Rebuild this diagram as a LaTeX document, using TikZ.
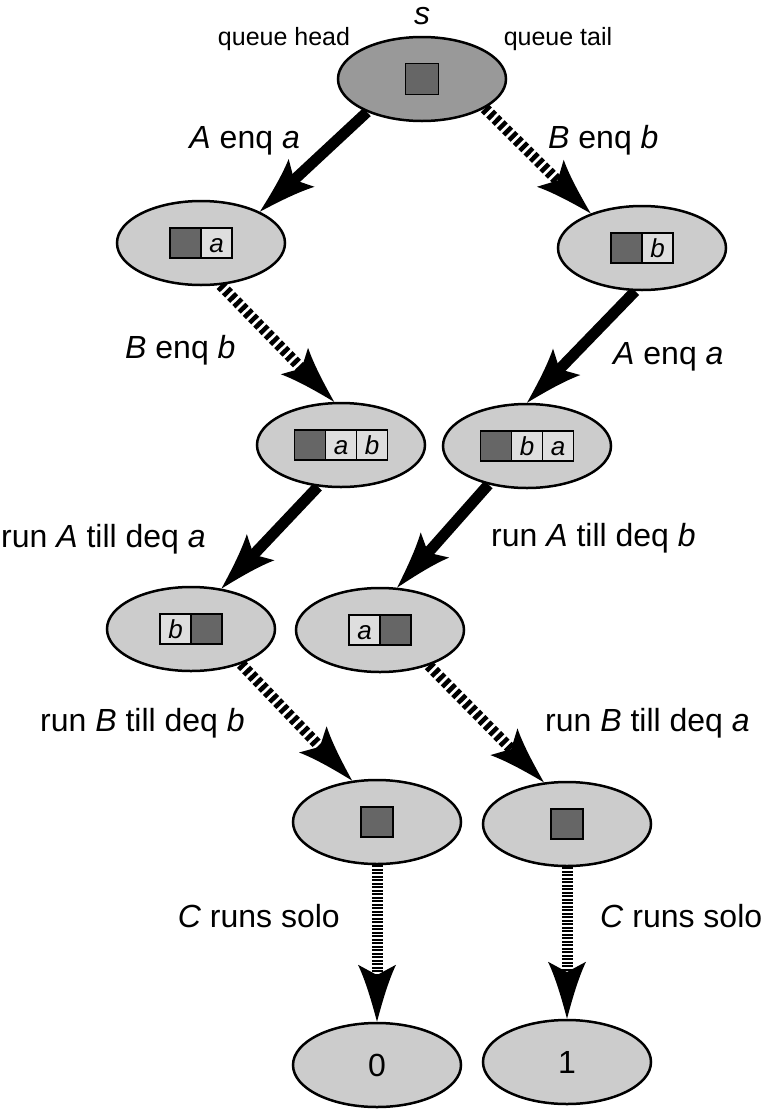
\documentclass[tikz,border=0pt]{standalone}
\usepackage{fontspec}
\setmainfont{Liberation Sans}
\usetikzlibrary{shapes.geometric,arrows.meta,backgrounds}
\definecolor{ellfill}{HTML}{CCCCCC}
\definecolor{topfill}{HTML}{999999}
\definecolor{darkfill}{HTML}{666666}
\definecolor{lightfill}{HTML}{DEDEDE}
\newdimen\barbtmp
\pgfdeclarearrow{
  name = Barb,
  parameters = {\the\pgfarrowlength,\the\pgfarrowwidth},
  setup code = {
    \pgfarrowssettipend{0pt}
    \barbtmp=-\pgfarrowlength
    \pgfarrowssetbackend{\barbtmp}
    \barbtmp=-0.78\pgfarrowlength
    \pgfarrowssetlineend{\barbtmp}
    \pgfarrowssavethe\pgfarrowlength
    \pgfarrowssavethe\pgfarrowwidth
  },
  drawing code = {
    \pgfpathmoveto{\pgfpointorigin}
    \pgfpathcurveto{\pgfpoint{-0.35*\pgfarrowlength}{0.14*\pgfarrowwidth}}{\pgfpoint{-0.72*\pgfarrowlength}{0.3*\pgfarrowwidth}}{\pgfpoint{-\pgfarrowlength}{0.5*\pgfarrowwidth}}
    \pgfpathlineto{\pgfpoint{-0.82*\pgfarrowlength}{0pt}}
    \pgfpathlineto{\pgfpoint{-\pgfarrowlength}{-0.5*\pgfarrowwidth}}
    \pgfpathcurveto{\pgfpoint{-0.72*\pgfarrowlength}{-0.3*\pgfarrowwidth}}{\pgfpoint{-0.35*\pgfarrowlength}{-0.14*\pgfarrowwidth}}{\pgfpointorigin}
    \pgfpathclose
    \pgfusepathqfill
  },
  defaults = {length=57pt, width=38pt}
}
\begin{document}
\begin{tikzpicture}[x=1pt,y=-1pt,
  state/.style={ellipse, draw, line width=2.5pt, fill=ellfill, minimum width=168pt, minimum height=84pt, inner sep=0pt},
  topstate/.style={state, fill=topfill},
  result/.style={state, font=\fontsize{32}{38}\selectfont},
  cellbase/.style={draw, line width=1.8pt, rectangle, minimum width=31pt, minimum height=30pt, inner sep=0pt, outer sep=0pt, text height=19pt, text depth=0pt, font=\fontsize{26}{30}\selectfont\itshape},
  dcell/.style={cellbase, fill=darkfill},
  lcell/.style={cellbase, fill=lightfill},
  lbl/.style={font=\fontsize{32}{38}\selectfont, inner sep=0pt},
  qlbl/.style={font=\fontsize{25}{30}\selectfont, inner sep=0pt},
  solidarr/.style={line width=11pt, -{Barb[length=57pt,width=38pt]}},
  dasharr/.style={solidarr, dash pattern=on 4.5pt off 3pt},
  vdasharr/.style={solidarr, dash pattern=on 2pt off 1.5pt},
]
\useasboundingbox (0,0) rectangle (765,1109);

% states
\node[topstate] (S) at (422,79) {};
\node[state] (L1) at (201,243) {};
\node[state] (R1) at (642,248) {};
\node[state] (L2) at (341,445) {};
\node[state] (R2) at (527,446) {};
\node[state] (L3) at (191,629) {};
\node[state] (R3) at (380,630) {};
\node[state] (L4) at (377,822) {};
\node[state] (R4) at (567,824) {};
\node[result] (Z0) at (377,1065) {0};
\node[result] (Z1) at (567,1062) {1};

% queue cells
\node[dcell, minimum width=33pt, minimum height=31pt] (Sc) at (S.center) {};
\node[dcell] (L1a) at ([xshift=-15.5pt]L1.center) {};
\node[lcell] (L1b) at ([xshift=15.5pt]L1.center) {a};
\node[dcell] (R1a) at ([xshift=-15.5pt]R1.center) {};
\node[lcell] (R1b) at ([xshift=15.5pt]R1.center) {b};
\node[dcell] (L2a) at ([xshift=-31pt]L2.center) {};
\node[lcell] (L2b) at (L2.center) {a};
\node[lcell] (L2c) at ([xshift=31pt]L2.center) {b};
\node[dcell] (R2a) at ([xshift=-31pt]R2.center) {};
\node[lcell] (R2b) at (R2.center) {b};
\node[lcell] (R2c) at ([xshift=31pt]R2.center) {a};
\node[lcell] (L3a) at ([xshift=-15.5pt]L3.center) {b};
\node[dcell] (L3b) at ([xshift=15.5pt]L3.center) {};
\node[lcell] (R3a) at ([xshift=-15.5pt]R3.center) {a};
\node[dcell] (R3b) at ([xshift=15.5pt]R3.center) {};
\node[dcell, minimum width=32pt] (L4c) at (L4.center) {};
\node[dcell, minimum width=32pt] (R4c) at (R4.center) {};

% top labels
\node[lbl, anchor=base, font=\fontsize{32}{38}\selectfont\itshape] (sl) at (422,24) {s};
\node[qlbl, anchor=base] (qh) at (284,45) {queue head};
\node[qlbl, anchor=base] (qt) at (558,45) {queue tail};

% edge labels
\node[lbl, anchor=base east] (e1) at (300,148) {\textit{A} enq \textit{a}};
\node[lbl, anchor=base west] (e2) at (548,148) {\textit{B} enq \textit{b}};
\node[lbl, anchor=base west] (e3) at (125,358) {\textit{B} enq \textit{b}};
\node[lbl, anchor=base west] (e4) at (613,364) {\textit{A} enq \textit{a}};
\node[lbl, anchor=base west] (e5) at (1,547) {run \textit{A} till deq \textit{a}};
\node[lbl, anchor=base west] (e6) at (491,546) {run \textit{A} till deq \textit{b}};
\node[lbl, anchor=base west] (e7) at (40,731) {run \textit{B} till deq \textit{b}};
\node[lbl, anchor=base west] (e8) at (545,731) {run \textit{B} till deq \textit{a}};
\node[lbl, anchor=base east] (e9) at (340,927) {\textit{C} runs solo};
\node[lbl, anchor=base west] (e10) at (600,927) {\textit{C} runs solo};

% connectors
\begin{scope}[on background layer]
\draw[solidarr] (S.-149) -- (L1.28);
\draw[dasharr] (S.-25) -- (R1.146);
\draw[dasharr] (L1.-65) -- (L2.99);
\draw[solidarr] (R1.-99) -- (R2.90);
\draw[solidarr] (L2.-119) -- (L3.53);
\draw[solidarr] (R2.-135) -- (R3.68);
\draw[dasharr] (L3.-35) -- (L4.121);
\draw[dasharr] (R3.-36) -- (R4.119);
\draw[vdasharr] (L4.-90) -- (Z0.90);
\draw[vdasharr] (R4.-90) -- (Z1.90);
\end{scope}
\end{tikzpicture}
\end{document}
